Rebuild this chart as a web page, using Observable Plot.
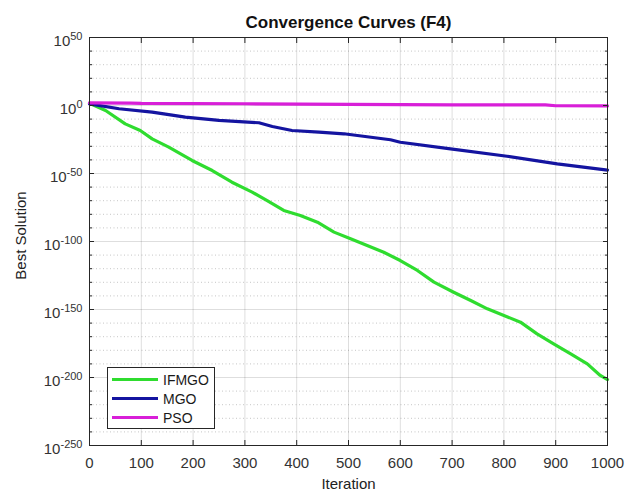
<!DOCTYPE html>
<html>
<head>
<meta charset="utf-8">
<script src="https://cdn.jsdelivr.net/npm/d3@7"></script>
<script src="https://cdn.jsdelivr.net/npm/@observablehq/plot@0.6"></script>
<style>
  body { margin: 0; background: #fff; font-family: "Liberation Sans", Arial, sans-serif; }
  #wrap { position: relative; width: 635px; height: 492px; overflow: hidden; }
  #legend {
    position: absolute; left: 107px; top: 367px; box-sizing: border-box;
    width: 108px; height: 62px; border: 1px solid #262626; background: #fff;
    padding: 2px 0 0 4px; font-size: 14px; color: #1a1a1a;
  }
  #legend .row { height: 19px; display: flex; align-items: center; }
  #legend .sw { display: inline-block; width: 46px; height: 3px; margin-right: 5px; }
</style>
</head>
<body>
<div id="wrap"></div>
<script>
// ---- data (log10 of best solution) ----
const seriesNames = ["IFMGO", "MGO", "PSO"];
const seriesColors = ["#2fdc2f", "#1414a0", "#d81fd8"];

const iterIFMGO = [0, 31, 69, 98, 121, 153, 198, 237, 275, 314, 343, 375, 407, 440, 472, 504, 536, 568, 600, 633, 665, 703, 736, 768, 800, 832, 864, 896, 929, 961, 986, 1000];
const logIFMGO = [1.7, -3.7, -13.5, -18.4, -24.5, -30.6, -40.4, -47.8, -56.4, -63.7, -69.9, -77.2, -80.9, -85.8, -93.1, -98, -103, -107.9, -114, -121.3, -129.9, -137.3, -143.4, -149.5, -154.4, -159.3, -167.9, -175.2, -182.6, -190, -198.5, -201.5];

const iterMGO = [0, 57, 121, 185, 250, 327, 353, 391, 443, 491, 581, 600, 697, 806, 903, 1000];
const logMGO = [1.2, -2.4, -4.9, -8.6, -11, -12.7, -15.4, -18.4, -19.6, -20.8, -25.2, -27, -31.9, -37.3, -42.9, -47.5];

const iterPSO = [0, 80, 100, 300, 500, 700, 880, 900, 1000];
const logPSO = [2.0, 1.8, 1.5, 1.3, 0.8, 0.5, 0.4, -0.2, -0.3];

const xTicks = [0, 100, 200, 300, 400, 500, 600, 700, 800, 900, 1000];
const yMajorExp = [50, 0, -50, -100, -150, -200, -250];
const yMinorExp = [40, 30, 20, 10, -10, -20, -30, -40, -60, -70, -80, -90, -110, -120, -130, -140, -160, -170, -180, -190, -210, -220, -230, -240];

const titleText = "Convergence Curves (F4)";
const xLabel = "Iteration";
const yLabel = "Best Solution";

// ---- build tables ----
function table(iters, logs, name) {
  return iters.map((it, i) => ({ iter: it, value: 10 ** logs[i], series: name }));
}
const tables = [
  table(iterIFMGO, logIFMGO, seriesNames[0]),
  table(iterMGO, logMGO, seriesNames[1]),
  table(iterPSO, logPSO, seriesNames[2])
];
const yMajor = yMajorExp.map(e => 10 ** e);
const yMinor = yMinorExp.map(e => 10 ** e);
const ink = "#262626";

const chart = Plot.plot({
  width: 635,
  height: 492,
  marginLeft: 89,
  marginRight: 28,
  marginTop: 37,
  marginBottom: 47,
  style: { fontFamily: "Liberation Sans, Arial, sans-serif", fontSize: "15px", color: ink, background: "white" },
  x: { domain: [0, 1000] },
  y: { type: "log", domain: [10 ** -250, 10 ** 50] },
  marks: [
    Plot.gridY(yMinor, { stroke: "#b8b8b8", strokeOpacity: 0.8, strokeDasharray: "1,2.5" }),
    Plot.gridY(yMajor, { stroke: "#000", strokeOpacity: 0.13 }),
    Plot.gridX(xTicks, { stroke: "#000", strokeOpacity: 0.13 }),
    ...tables.map((t, i) => Plot.line(t, { x: "iter", y: "value", stroke: seriesColors[i], strokeWidth: 3.2 })),
    Plot.frame({ stroke: ink }),
    // inward ticks
    Plot.axisX({ anchor: "bottom", ticks: xTicks, tickSize: -5, text: null, label: null, stroke: ink }),
    Plot.axisX({ anchor: "top", ticks: xTicks, tickSize: -5, text: null, label: null, stroke: ink }),
    Plot.axisY({ anchor: "left", ticks: yMajor, tickSize: -5, text: null, label: null, stroke: ink }),
    Plot.axisY({ anchor: "right", ticks: yMajor, tickSize: -5, text: null, label: null, stroke: ink }),
    Plot.axisY({ anchor: "left", ticks: yMinor, tickSize: -3, text: null, label: null, stroke: ink }),
    Plot.axisY({ anchor: "right", ticks: yMinor, tickSize: -3, text: null, label: null, stroke: ink }),
    // tick labels
    Plot.axisX({ anchor: "bottom", ticks: xTicks, tickSize: 0, tickPadding: 12, label: null, fontSize: 15, fill: "#333",
      tickFormat: d => String(d) }),
    Plot.axisY({ anchor: "left", ticks: yMajor, tickSize: 0, tickPadding: 7, dy: 4, label: null, fontSize: 15, fill: "#333",
      tickFormat: d => "10^" + Math.round(Math.log10(d)) }),
    // title and axis labels
    Plot.text([titleText], { text: d => d, frameAnchor: "top", textAnchor: "middle", dy: -10, lineAnchor: "bottom", fontWeight: "bold", fontSize: 17, fill: "#111" }),
    Plot.text([xLabel], { text: d => d, frameAnchor: "bottom", textAnchor: "middle", dy: 43, lineAnchor: "bottom", fontSize: 15, fill: "#222" }),
    Plot.text([yLabel], { text: d => d, frameAnchor: "left", textAnchor: "middle", rotate: -90, dx: -74, dy: -6, lineAnchor: "top", fontSize: 15, fill: "#222" })
  ]
});

// superscript exponents in y tick labels
d3.select(chart).selectAll('g[aria-label="y-axis tick label"] text').each(function () {
  const s = this.textContent;
  const m = s.match(/^10\^(-?\d+)$/);
  if (!m) return;
  const t = d3.select(this);
  t.text(null);
  t.append("tspan").text("10");
  t.append("tspan").attr("dy", "-6").attr("font-size", "11px").text(m[1]);
});

const wrap = document.getElementById("wrap");
wrap.appendChild(chart);

// legend
const legend = document.createElement("div");
legend.id = "legend";
seriesNames.forEach((name, i) => {
  const row = document.createElement("div");
  row.className = "row";
  const sw = document.createElement("span");
  sw.className = "sw";
  sw.style.background = seriesColors[i];
  const lab = document.createElement("span");
  lab.textContent = name;
  row.appendChild(sw);
  row.appendChild(lab);
  legend.appendChild(row);
});
wrap.appendChild(legend);
</script>
</body>
</html>
